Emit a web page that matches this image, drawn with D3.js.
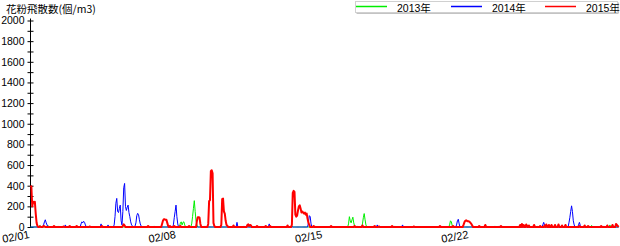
<!DOCTYPE html>
<html><head><meta charset="utf-8">
<script src="https://cdn.jsdelivr.net/npm/d3@7"></script>
<style>
html,body{margin:0;padding:0;background:#fff;}
svg{display:block;}
text{font-family:"Liberation Sans",Arial,"Noto Sans CJK JP",sans-serif;}
</style></head>
<body>
<svg id="c" width="620" height="246"></svg>
<script>
// Hourly pollen counts (個/m3) starting 02/01 00:00
const seriesNames = ["2013年", "2014年", "2015年"];
const seriesColors = ["#00ee00", "#0000ff", "#ff0000"];
const dateLabels = ["02/01", "02/08", "02/15", "02/22"];
const dateTickHours = [0, 168, 336, 504];
const yTickValues = [0,100,200,300,400,500,600,700,800,900,1000,1100,1200,1300,1400,1500,1600,1700,1800,1900,2000];

const pollen2013 = [
0,0,0,0,0,0,0,0,0,0,10,15,0,0,0,0,0,0,0,0,15,0,0,0,
0,0,0,0,0,0,0,0,10,0,0,0,0,0,0,0,0,0,0,0,0,0,0,0,
0,0,0,0,0,0,0,0,0,0,0,0,0,0,0,0,0,10,0,0,0,0,0,0,
0,0,0,0,0,0,0,0,0,0,0,0,0,0,0,0,0,0,0,0,10,0,0,0,
0,0,0,0,0,0,0,0,0,0,0,0,0,0,0,0,0,0,0,0,0,0,0,0,
0,0,0,0,0,0,0,0,0,0,0,0,0,0,0,0,0,0,0,0,0,0,10,0,
0,0,0,0,0,0,0,0,0,0,0,0,0,0,0,0,0,0,0,0,0,0,0,0,
0,0,0,0,40,50,20,45,50,20,0,0,0,0,0,0,0,30,100,180,255,150,60,20,
0,0,0,0,0,0,0,0,10,0,0,0,0,0,0,0,0,0,0,0,0,0,0,0,
0,0,0,0,0,0,0,0,0,0,0,0,0,0,0,0,0,0,0,0,0,10,0,0,
0,0,0,0,0,0,0,0,0,15,0,0,0,0,0,0,0,0,0,0,0,0,0,0,
0,0,0,0,0,0,0,0,0,0,0,0,0,0,0,0,0,0,0,0,0,0,0,0,
0,0,0,0,0,0,0,0,0,0,0,0,10,0,0,0,0,0,0,0,0,0,0,0,
0,0,0,0,0,0,0,0,0,0,0,0,0,0,0,10,0,0,0,0,0,0,0,0,
0,0,0,0,0,0,0,0,0,0,0,0,0,0,0,0,0,0,0,0,0,0,0,0,
0,0,0,0,0,30,100,60,40,70,95,40,10,0,0,0,0,0,0,0,0,30,90,130,
70,20,0,0,0,0,0,0,0,0,0,0,0,0,0,0,0,0,0,0,0,0,0,0,
0,0,0,0,0,0,0,0,0,0,10,0,0,0,0,0,0,0,0,0,0,0,0,0,
0,0,0,0,0,0,0,0,0,0,0,0,0,0,0,0,0,0,0,0,0,0,0,0,
0,0,0,0,0,0,0,0,0,0,0,0,0,0,0,0,0,0,0,0,0,0,0,0,
0,20,60,50,15,0,0,0,0,0,0,0,0,0,0,0,0,0,0,0,0,0,0,0,
0,0,0,0,0,0,0,0,0,0,0,0,0,0,0,0,0,0,0,0,0,0,0,0,
0,0,0,0,0,10,0,0,0,0,0,0,0,0,0,0,0,0,0,0,0,0,0,0,
0,0,0,0,0,0,0,0,0,0,0,0,0,15,0,0,0,0,20,0,0,0,0,0,
0,0,0,0,0,0,10,0,0,0,0,0,0,0,0,0,0,0,0,0,0,0,0,0,
0,0,0,0,0,0,0,0,0,0,0,0,0,0,0,0,0,0,0,0,0,0,0,0,
0,0,0,0,0,0,0,0,0,0,0,0,0,0,0,0,0,0,0,0,15,0,0,0,
0,0,0,0,0,0,0,0,0,0,0,0,0,0,0,0,0,20,0,0,0,0,0,0,
0,0,0,0
];

const pollen2014 = [
0,0,0,0,0,0,0,0,0,0,0,0,0,0,0,20,50,70,40,20,0,0,0,0,
0,0,0,0,0,0,0,0,0,0,0,0,0,0,0,0,20,0,0,0,0,0,0,0,
0,0,0,0,0,0,0,0,0,0,30,50,40,55,45,20,0,0,0,0,0,0,0,0,
0,0,0,0,0,0,0,0,0,30,0,0,0,0,0,0,0,20,0,0,0,0,0,0,
20,100,230,277,150,140,180,212,60,20,150,380,422,200,160,190,212,140,100,50,20,10,0,0,
10,40,110,132,120,70,30,10,0,0,0,0,0,0,0,10,0,0,0,0,0,0,0,0,
0,0,0,0,0,0,0,0,0,0,0,0,0,0,0,0,0,0,0,0,20,90,150,212,
100,30,0,0,0,0,0,0,0,0,0,0,0,0,0,0,0,0,0,0,0,0,0,0,
0,0,0,0,0,0,0,0,0,0,10,0,0,0,0,0,0,0,0,0,0,0,0,0,
0,0,0,0,0,0,0,0,0,0,0,0,0,0,0,0,0,0,0,0,0,45,0,0,
0,0,0,0,0,10,0,0,0,0,0,0,0,0,0,0,0,0,0,0,0,0,0,0,
0,0,0,0,0,0,0,0,0,0,30,0,0,0,0,0,0,0,0,0,0,0,0,0,
0,0,0,0,0,0,0,0,0,0,0,0,0,0,0,0,0,0,0,0,0,0,0,0,
0,0,0,0,0,0,0,40,110,100,30,0,0,0,0,0,0,0,0,0,0,0,0,0,
0,0,0,0,0,0,0,0,0,0,0,0,0,0,0,0,0,0,0,0,0,0,0,0,
0,0,0,0,0,0,0,0,0,0,0,0,0,0,0,10,0,0,0,0,0,0,0,0,
0,0,0,0,0,0,0,0,0,0,0,0,0,0,20,0,0,0,0,0,0,0,0,0,
0,0,0,0,0,0,0,0,0,0,0,0,0,0,0,0,0,0,0,20,0,0,0,0,
0,0,0,0,0,0,0,0,0,0,0,0,0,0,0,0,0,0,0,0,0,0,0,0,
0,0,0,0,0,0,0,0,0,0,0,0,0,0,0,0,0,0,0,0,0,0,0,0,
0,0,0,0,0,0,0,0,0,20,60,75,30,0,0,0,0,0,0,0,0,0,0,0,
0,0,0,0,0,0,0,0,0,0,0,0,0,0,0,0,0,0,0,0,0,0,0,0,
0,0,0,0,0,0,0,0,0,0,10,0,0,0,0,0,0,0,0,0,0,0,0,0,
0,0,0,0,0,0,0,0,0,0,0,0,0,0,0,0,0,0,0,0,0,0,0,0,
0,0,0,0,0,0,0,0,0,0,0,0,20,45,20,0,0,0,0,0,0,0,0,0,
0,0,0,0,0,0,0,0,0,0,0,0,0,0,0,0,0,0,40,90,150,205,150,60,
20,0,0,0,0,20,45,15,0,0,0,0,0,0,0,0,0,0,0,0,0,0,0,0,
0,0,0,0,0,0,0,0,0,0,10,0,0,0,0,0,0,0,0,0,0,0,0,0,
0,0,0,0
];

const pollen2015 = [
400,390,200,245,235,245,130,40,10,0,0,5,0,0,0,10,5,0,0,0,0,0,0,0,
0,0,0,10,0,0,0,0,0,0,0,0,0,0,5,0,0,0,0,0,0,10,0,0,
0,0,0,0,0,10,0,0,0,0,0,0,0,0,0,0,0,0,0,0,5,0,0,0,
0,0,0,0,0,0,0,0,0,0,10,0,0,0,0,0,0,0,0,0,0,0,0,0,
0,0,0,0,0,0,0,0,0,0,10,25,15,0,0,0,0,0,0,0,0,0,0,0,
0,0,0,0,0,0,0,0,0,0,0,0,0,0,0,10,0,0,0,0,0,0,0,0,
0,0,0,0,0,0,0,30,60,75,75,70,70,40,10,0,10,0,0,0,0,10,0,0,
0,0,0,0,10,0,0,0,0,0,0,0,0,0,10,0,0,0,0,0,0,0,0,60,
95,95,90,30,0,0,0,0,0,0,0,0,30,250,260,540,550,520,40,10,0,0,0,0,
0,0,0,20,270,275,150,130,60,20,10,0,0,0,0,0,0,15,0,0,0,0,0,0,
0,0,0,0,0,0,0,0,0,20,25,10,20,15,0,0,0,0,0,0,10,0,0,0,
0,0,0,0,0,0,10,0,0,0,0,10,0,0,0,0,0,0,0,0,0,0,0,0,
0,0,0,0,0,0,0,15,0,0,0,0,20,330,350,340,120,100,110,160,200,210,180,140,
150,140,130,140,120,130,80,40,20,0,0,0,0,10,0,0,0,0,0,0,0,0,0,0,
0,0,0,0,0,0,0,0,0,10,0,0,0,0,0,0,0,0,0,0,0,0,0,0,
0,0,0,0,0,0,0,0,0,0,0,0,10,0,0,0,0,0,0,0,0,15,0,0,
0,0,0,0,0,0,0,0,0,0,0,10,0,0,0,0,5,0,0,0,0,0,0,0,
0,0,0,0,0,0,0,10,0,0,0,0,0,0,0,0,0,0,0,0,0,0,0,0,
0,0,0,0,0,0,0,0,5,0,0,0,0,0,0,0,0,0,0,0,0,0,0,0,
0,0,0,0,0,0,0,0,0,0,0,0,0,0,10,0,0,0,0,0,0,0,0,0,
0,0,0,0,0,10,0,0,0,0,0,0,0,0,0,0,0,20,45,60,65,60,55,55,
50,40,30,15,0,0,0,0,0,0,0,10,0,0,0,0,0,0,20,0,0,0,0,0,
0,0,0,0,0,0,0,0,0,0,0,0,10,0,0,0,0,0,0,0,0,0,0,0,
0,0,0,0,0,0,0,0,0,0,20,0,30,0,20,0,0,25,0,0,15,0,0,0,
0,0,20,0,0,0,0,0,0,10,0,0,0,0,15,0,25,0,0,20,0,0,20,0,
0,0,20,0,0,0,25,0,0,0,15,0,0,0,20,0,0,0,0,0,0,0,0,0,
0,0,0,0,0,0,10,0,0,0,0,0,15,0,0,0,10,0,0,0,0,0,0,0,
0,0,0,0,0,0,0,10,0,0,0,0,0,0,15,0,0,0,0,0,20,0,0,0,
30,20,10,0
];

const allSeries = [pollen2013, pollen2014, pollen2015];

const svg = d3.select("#c");
const x = d3.scaleLinear().domain([0, 672]).range([30.5, 616]);
const y = d3.scaleLinear().domain([0, 2000]).range([227, 20.5]);

// Title
svg.append("text").attr("x", 6).attr("y", 12.5)
  .style("font-family", "'Noto Sans CJK JP',sans-serif").style("font-size", "10.5px")
  .attr("fill", "#000").text("花粉飛散数(個/m3)");

// Y axis
const yAxis = d3.axisLeft(y).tickValues(yTickValues).tickSize(3)
  .tickFormat(v => v % 200 === 0 ? String(v) : "");
const ga = svg.append("g").attr("transform", "translate(30.5,0)").call(yAxis);
ga.select(".domain").attr("d", "M0," + (y(2000) - 2) + "V" + y(0)).attr("stroke", "#000");
ga.selectAll(".tick line").attr("x1", 3).attr("x2", -3).attr("stroke", "#000");
ga.selectAll(".tick text").attr("x", -6).attr("fill", "#000")
  .style("font-size", "10.5px").style("font-family", "'Liberation Sans',Arial,sans-serif");

// Lines (drawn over the axis)
const line = d3.line().x((d, i) => x(i)).y(d => y(d));
allSeries.forEach((s, k) => {
  svg.append("path").datum(s).attr("d", line)
    .attr("fill", "none").attr("stroke", seriesColors[k])
    .attr("stroke-width", k === 2 ? 2 : 1).attr("stroke-linejoin", "round");
});

// X axis labels
const xAxis = d3.axisBottom(x).tickValues(dateTickHours).tickSize(0)
  .tickFormat((d, i) => dateLabels[i]);
const gx = svg.append("g").attr("transform", "translate(0,227)").call(xAxis);
gx.select(".domain").remove();
gx.selectAll(".tick text")
  .attr("text-anchor", "end").attr("dy", null).attr("y", 0).attr("x", 0)
  .attr("transform", "translate(-1,11) rotate(-10)")
  .attr("fill", "#000")
  .style("font-size", "11px").style("font-family", "'Liberation Sans',Arial,sans-serif");

// Legend
const lg = svg.append("g");
lg.append("rect").attr("x", 356.5).attr("y", 2.5).attr("width", 262).attr("height", 11)
  .attr("fill", "#888");
lg.append("rect").attr("x", 355.5).attr("y", 1.5).attr("width", 262).attr("height", 11)
  .attr("fill", "#fff").attr("stroke", "#d0d0d0");
const legX = [356, 451, 545];
seriesNames.forEach((n, k) => {
  lg.append("line").attr("x1", legX[k]).attr("x2", legX[k] + 31).attr("y1", 6.5).attr("y2", 6.5)
    .attr("stroke", seriesColors[k]).attr("stroke-width", 1.5);
  lg.append("text").attr("x", legX[k] + 41).attr("y", 11.5)
    .style("font-size", "10.5px").style("font-family", "'Liberation Sans','Noto Sans CJK JP',sans-serif")
    .attr("fill", "#000").text(n);
});
</script>
</body></html>
